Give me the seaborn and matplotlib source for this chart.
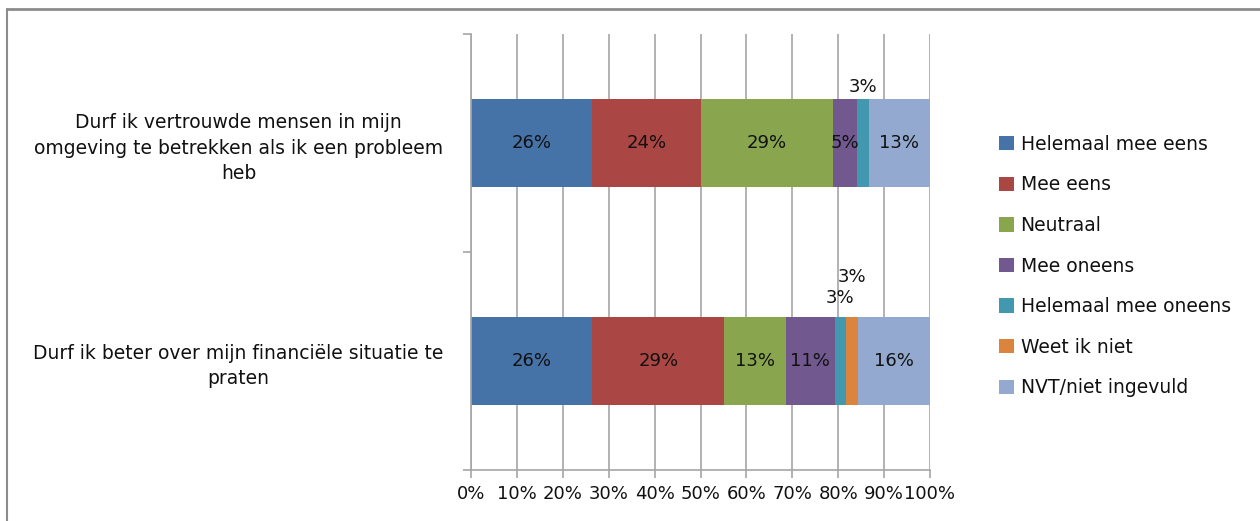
import numpy as np
import pandas as pd
import matplotlib
matplotlib.use("Agg")
import matplotlib.pyplot as plt
from matplotlib.lines import Line2D
import seaborn as sns

# Survey statements (rows) and answer categories (stacked segments)
statements = [
    "Durf ik vertrouwde mensen in mijn\nomgeving te betrekken als ik een probleem\nheb",
    "Durf ik beter over mijn financiële situatie te\npraten",
]
answers = [
    "Helemaal mee eens",
    "Mee eens",
    "Neutraal",
    "Mee oneens",
    "Helemaal mee oneens",
    "Weet ik niet",
    "NVT/niet ingevuld",
]
# Share of respondents (%) per answer, one list per answer, ordered like `statements`
helemaal_mee_eens = [26.4, 26.4]
mee_eens = [23.7, 28.8]
neutraal = [28.8, 13.4]
mee_oneens = [5.2, 10.6]
helemaal_mee_oneens = [2.6, 2.6]
weet_ik_niet = [0.0, 2.6]
nvt = [13.3, 15.6]
x_ticks = [0, 10, 20, 30, 40, 50, 60, 70, 80, 90, 100]

series = [helemaal_mee_eens, mee_eens, neutraal, mee_oneens,
          helemaal_mee_oneens, weet_ik_niet, nvt]
colors = ["#4572A7", "#AA4643", "#89A54E", "#71588F", "#4198AF", "#DB843D", "#93A9CF"]

sns.set_theme(style="white")
plt.rcParams["font.family"] = ["DejaVu Sans"]
FS = 13
FS_CAT = 13.5
TXT = "#111111"

fig = plt.figure(figsize=(12.6, 5.21), dpi=100)
ax = fig.add_axes([471 / 1260, 1 - 470 / 521, (930 - 471) / 1260, (470 - 34) / 521])

df = pd.DataFrame({"statement": statements})
left = np.zeros(len(statements))
for name, vals, col in zip(answers, series, colors):
    vals = np.asarray(vals, dtype=float)
    sns.barplot(x=vals, y=df["statement"], orient="h", color=col, saturation=1,
                width=0.4, left=left, label=name, ax=ax, linewidth=0)
    left = left + vals

handles, labels = ax.get_legend_handles_labels()
if ax.get_legend() is not None:
    ax.get_legend().remove()

# Data labels: centred in segments, small segments labelled above the bar
above_offsets = {("Helemaal mee oneens", 0): 9,
                 ("Helemaal mee oneens", 1): 14,
                 ("Weet ik niet", 1): 29}
left = np.zeros(len(statements))
for name, vals in zip(answers, series):
    for i, v in enumerate(vals):
        if v > 0:
            cx = left[i] + v / 2
            key = (name, i)
            if key in above_offsets:
                ax.annotate(f"{v:.0f}%", xy=(cx, i - 0.2), xytext=(0, above_offsets[key]),
                            textcoords="offset points", ha="center", va="center",
                            fontsize=FS, color=TXT)
            else:
                ax.text(cx, i, f"{v:.0f}%", ha="center", va="center",
                        fontsize=FS, color=TXT)
        left[i] += v

grid_c = "#a6a6a6"
ax.set_xlim(0, 100)
ax.set_ylim(1.5, -0.5)
ax.set_xticks(x_ticks)
ax.set_xticklabels([f"{t}%" for t in x_ticks], fontsize=FS, color=TXT)
ax.xaxis.grid(True, color=grid_c, linewidth=1.2)
ax.set_axisbelow(True)

# Category boundaries carry the tick marks; labels sit at the category centres
ax.set_yticks([-0.5, 0.5, 1.5])
ax.set_yticklabels(["", "", ""])
ax.set_yticks([0, 1], minor=True)
ax.set_yticklabels(statements, minor=True, fontsize=FS_CAT, color=TXT,
                   multialignment="center", linespacing=1.42)
ax.tick_params(axis="y", which="major", left=True, length=6, width=1.2, color=grid_c)
ax.tick_params(axis="y", which="minor", left=False, length=0, pad=20)
ax.tick_params(axis="x", which="major", bottom=True, length=6, width=1.2, color=grid_c, pad=5)
ax.set_xlabel("")
ax.set_ylabel("")

for side in ["top", "right"]:
    ax.spines[side].set_visible(False)
for side in ["left", "bottom"]:
    ax.spines[side].set_color(grid_c)
    ax.spines[side].set_linewidth(1.2)

fig.legend(handles, labels, loc="center left", bbox_to_anchor=(999 / 1260, 1 - 266 / 521),
           frameon=False, fontsize=FS_CAT, handlelength=0.8, handleheight=0.8,
           handletextpad=0.35, labelspacing=1.15, borderpad=0, borderaxespad=0,
           labelcolor=TXT)

# Chart-area frame (top and left edges)
frame_c = "#8c8c8c"
fig.add_artist(Line2D([7 / 1260, 7 / 1260], [0, 1 - 9 / 521], transform=fig.transFigure,
                      color=frame_c, linewidth=1.5))
fig.add_artist(Line2D([7 / 1260, 1], [1 - 9 / 521, 1 - 9 / 521], transform=fig.transFigure,
                      color=frame_c, linewidth=2))

fig.savefig("out.png", dpi=100, facecolor="white")
